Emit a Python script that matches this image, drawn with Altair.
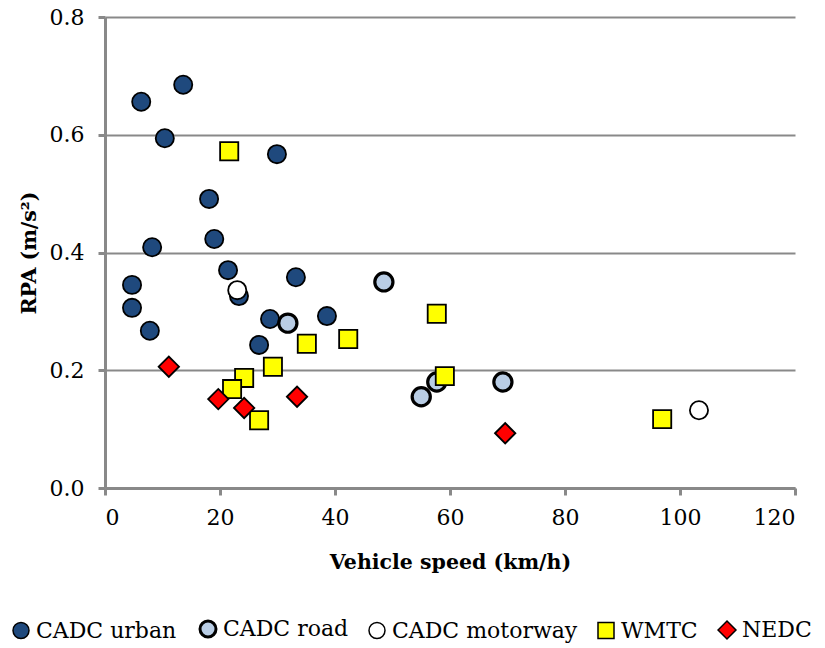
import altair as alt
import pandas as pd

series_names = ["CADC urban", "CADC road", "CADC motorway", "WMTC", "NEDC"]

urban_speed = [6.3, 13.6, 10.4, 18.1, 19.0, 8.2, 21.4, 4.7, 23.3, 33.2, 4.7, 7.8, 28.7, 38.6, 26.8, 29.9]
urban_rpa = [0.656, 0.685, 0.594, 0.491, 0.423, 0.409, 0.370, 0.345, 0.326, 0.358, 0.306, 0.267, 0.287, 0.292, 0.243, 0.567]

road_speed = [31.8, 48.5, 55.0, 57.7, 69.2]
road_rpa = [0.280, 0.350, 0.155, 0.180, 0.180]

motorway_speed = [23.0, 103.3]
motorway_rpa = [0.336, 0.132]

wmtc_speed = [21.6, 35.1, 42.3, 29.2, 24.2, 22.1, 26.8, 57.7, 59.1, 96.9]
wmtc_rpa = [0.572, 0.245, 0.253, 0.206, 0.187, 0.168, 0.115, 0.296, 0.190, 0.117]

nedc_speed = [11.1, 19.7, 24.2, 33.4, 69.6]
nedc_rpa = [0.206, 0.151, 0.136, 0.155, 0.093]

x_ticks = [0, 20, 40, 60, 80, 100, 120]
y_ticks = [0.0, 0.2, 0.4, 0.6, 0.8]

rows = []
for name, xs, ys in [
    ("CADC urban", urban_speed, urban_rpa),
    ("CADC road", road_speed, road_rpa),
    ("CADC motorway", motorway_speed, motorway_rpa),
    ("WMTC", wmtc_speed, wmtc_rpa),
    ("NEDC", nedc_speed, nedc_rpa),
]:
    for xv, yv in zip(xs, ys):
        rows.append({"series": name, "speed": xv, "rpa": yv})
df = pd.DataFrame(rows)
df["order"] = range(len(df))

FONT = "DejaVu Serif"
AXIS_GREY = "#898989"
DIAMOND = "M-1.12,0L0,-1.12L1.12,0L0,1.12Z"

sym_width = alt.ExprRef(expr="datum.value === 'CADC road' ? 3 : 1.5")
leg = alt.Legend(title=None, symbolStrokeWidth=sym_width)

chart = (
    alt.Chart(df)
    .mark_point(filled=True, opacity=1, strokeOpacity=1, fillOpacity=1, size=330)
    .encode(
        x=alt.X(
            "speed:Q",
            scale=alt.Scale(domain=[0, 120], nice=False, zero=True),
            axis=alt.Axis(
                values=x_ticks,
                format="d",
                title="Vehicle speed (km/h)",
                grid=False,
                titleY=80,
                titleBaseline="alphabetic",
                labelPadding=12,
            ),
        ),
        y=alt.Y(
            "rpa:Q",
            scale=alt.Scale(domain=[0, 0.8], nice=False),
            axis=alt.Axis(
                values=y_ticks,
                format=".1f",
                title="RPA (m/s²)",
                grid=True,
                titleX=-76,
                titleBaseline="middle",
                labelPadding=14,
            ),
        ),
        fill=alt.Fill(
            "series:N",
            scale=alt.Scale(
                domain=series_names,
                range=["#1F497D", "#B9CDE5", "#FFFFFF", "#FFFF00", "#FF0000"],
            ),
            legend=leg,
        ),
        stroke=alt.Stroke(
            "series:N",
            scale=alt.Scale(domain=series_names, range=["#000000"] * 5),
            legend=leg,
        ),
        shape=alt.Shape(
            "series:N",
            scale=alt.Scale(
                domain=series_names,
                range=["circle", "circle", "circle", "square", DIAMOND],
            ),
            legend=leg,
        ),
        strokeWidth=alt.condition(
            alt.datum.series == "CADC road", alt.value(3.2), alt.value(1.8)
        ),
        order=alt.Order("order:Q"),
    )
    .properties(
        width=690,
        height=471,
        padding={"left": 105, "top": 17, "right": 30, "bottom": 160},
        autosize=alt.AutoSizeParams(type="none"),
    )
    .configure_view(strokeWidth=0)
    .configure_axis(
        labelFont=FONT,
        labelFontSize=22,
        labelColor="black",
        titleFont=FONT,
        titleFontSize=20.5,
        titleFontWeight="bold",
        titleColor="black",
        domainColor=AXIS_GREY,
        domainWidth=3,
        tickColor=AXIS_GREY,
        tickWidth=3,
        tickSize=7,
        gridColor=AXIS_GREY,
        gridWidth=2,
    )
    .configure_legend(
        orient="none",
        direction="horizontal",
        legendX=-95,
        legendY=601,
        padding=0,
        labelFont=FONT,
        labelFontSize=22,
        labelColor="black",
        labelLimit=400,
        symbolSize=256,
        labelOffset=4,
        columnPadding=17,
    )
)

chart.save("out.html", embed_options={"renderer": "svg", "actions": False})
